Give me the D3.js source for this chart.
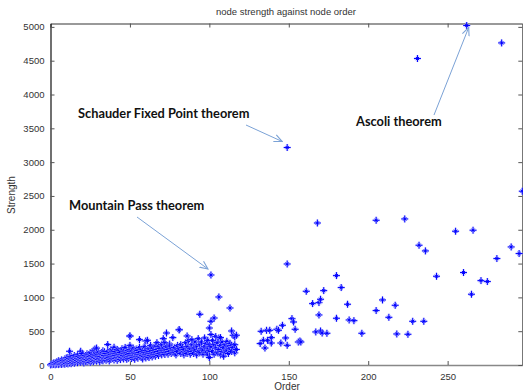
<!DOCTYPE html>
<html>
<head>
<meta charset="utf-8">
<script src="https://cdn.jsdelivr.net/npm/d3@7"></script>
<style>
  body { margin: 0; background: #fff; }
  svg { display: block; }
</style>
</head>
<body>
<div id="chart"></div>
<script>
// node order (x) and node strength (y)
const densePoints = [
  [0,2],[1,5],[1,12],[1,22],[2,8],[2,18],[2,30],[3,4],[3,15],[3,35],[4,10],[4,26],[4,48],[5,6],[5,20],[5,40],[5,62],
  [6,14],[6,33],[6,55],[7,9],[7,28],[7,50],[7,75],[8,18],[8,42],[8,66],[9,12],[9,35],[9,58],[9,88],[10,22],[10,47],[10,70],[10,105],
  [11,16],[11,40],[11,78],[11,112],[12,30],[12,60],[12,95],[12,203],[13,20],[13,52],[13,86],[13,128],[14,38],[14,70],[14,104],
  [15,26],[15,58],[15,92],[15,140],[16,44],[16,80],[16,118],[17,34],[17,66],[17,100],[17,150],[18,50],[18,88],[18,126],
  [19,40],[19,75],[19,203],[19,110],[20,60],[20,96],[20,135],[20,170],
  [21,30],[21,72],[21,115],[22,55],[22,90],[22,140],[23,45],[23,82],[23,120],[23,165],[24,66],[24,104],[24,150],
  [25,38],[25,78],[25,125],[25,180],[26,60],[26,98],[26,140],[27,50],[27,88],[27,130],[27,217],[28,70],[28,112],[28,237],[28,160],
  [29,58],[29,95],[29,145],[29,250],[30,80],[30,120],[30,190],
  [31,48],[31,100],[31,150],[32,75],[32,125],[32,175],[33,62],[33,108],[33,160],[33,210],[34,90],[34,140],[34,195],
  [35,70],[35,118],[35,170],[36,302],[36,95],[36,145],[36,200],[37,60],[37,110],[37,165],[38,85],[38,130],[38,185],[38,225],
  [39,100],[39,150],[39,205],[40,75],[40,120],[40,175],[40,262],
  [41,95],[41,140],[41,200],[42,70],[42,115],[42,165],[42,230],[43,105],[43,150],[43,210],[44,80],[44,130],[44,185],
  [45,110],[45,160],[45,240],[46,90],[46,140],[46,195],[47,120],[47,175],[47,260],[48,85],[48,135],[48,190],
  [49,100],[49,155],[49,215],[50,425],[50,430],[50,120],[50,170],[50,230],[50,290],
  [51,95],[51,145],[51,205],[52,110],[52,165],[52,250],[53,85],[53,135],[53,190],[54,120],[54,175],[54,235],
  [55,100],[55,150],[55,215],[56,375],[56,130],[56,185],[56,260],[57,110],[57,160],[57,225],[58,90],[58,140],[58,200],
  [59,125],[59,180],[59,270],[60,355],[60,105],[60,150],[60,215],
  [61,365],[61,130],[61,190],[62,110],[62,165],[62,240],[63,140],[63,200],[63,290],[64,120],[64,175],[64,250],
  [65,150],[65,215],[66,280],[66,130],[66,190],[67,160],[67,230],[67,330],[68,140],[68,200],[68,270],[69,170],[69,245],
  [70,150],[70,210],[70,300],
  [71,390],[71,180],[71,250],[72,155],[72,220],[72,330],[73,473],[73,190],[73,270],[74,160],[74,230],[75,200],[75,310],[75,280],
  [76,170],[76,240],[77,405],[77,210],[77,190],[78,180],[78,260],[79,150],[79,220],[80,200],[80,290],
  [81,523],[81,520],[81,240],[82,170],[82,300],[83,210],[83,260],[84,150],[84,230],[85,190],[85,330],[86,429],[86,270],[86,170],
  [87,210],[87,360],[88,160],[88,240],[89,375],[89,200],[89,300],[90,170],[90,250],
  [91,220],[91,340],[92,150],[92,280],[93,200],[93,390],[94,750],[94,180],[94,300],[95,240],[95,340],[96,160],[96,220],
  [97,270],[97,400],[98,190],[98,320],[99,365],[99,250],[99,150],[100,547],[100,210],[100,300],[100,110],
  [101,646],[101,450],[101,270],[102,200],[102,360],[103,695],[103,300],[103,160],[104,250],[104,420],[105,180],[105,330],
  [106,1006],[106,230],[106,400],[107,405],[107,150],[107,290],[108,200],[108,340],[109,260],[109,130],[110,300],[110,190],
  [111,220],[111,350],[112,170],[112,280],[113,843],[113,240],[113,320],[114,503],[114,200],[114,290],[115,439],[115,260],
  [116,414],[116,180],[116,300],[117,230],[117,440]
];

const midPoints = [
  [132,317],[132.6,498],[134,365],[135,251],[136,513],[136.6,365],[138,513],[139,325],[139,405],[142.5,528],[143.5,513],
  [145,325],[146,587],[148,400],[149,291],[152,686],[153,636],[154,528],[156,340],[157,355],[157.6,340],
  [161,1090],[165,908],[167,489],[169,740],[169,923],[170,503],[170,972],[171,473],[172,1100],[174,469],[180,691],
  [180,1322],[183,1145],[187,898],[188,666],[191,656],[196,469],[205,805],[209,962],[213,705],[217,883],[218,459],
  [225,454],[228,646],[235,646]
];

const highPoints = [
  [101,1331],[149,1494],[149,3216],[168,2100],[205,2140],[223,2160],[231,4532],[232,1771],[236,1687],[243,1312],
  [255,1978],[260,1367],[262,5020],[265,1046],[266,1993],[271,1248],[275,1234],[281,1574],[284,4763],[290,1746],
  [295,1648],[297,2570]
];

const xTicks = [0, 50, 100, 150, 200, 250];
const yTicks = [0, 500, 1000, 1500, 2000, 2500, 3000, 3500, 4000, 4500, 5000];

const annotations = [
  { text: "Schauder Fixed Point theorem", target: [149, 3216] },
  { text: "Mountain Pass theorem", target: [101, 1331] },
  { text: "Ascoli theorem", target: [262, 5020] }
];

const width = 523, height = 392;

const svg = d3.select('#chart')
  .append('svg')
  .attr('width', width)
  .attr('height', height);

const x = d3.scaleLinear().domain([0, 297]).range([50.5, 522.3]);
const y = d3.scaleLinear().domain([0, 5050]).range([365, 23.5]);

const axisColor = '#555';
const textColor = '#333';
const tickFont = '9.5px "Liberation Sans", Arial, sans-serif';
const fmt = d3.format('d');

function styleAxis(g) {
  g.select('.domain').attr('stroke', axisColor).attr('stroke-width', 1.2);
  g.selectAll('.tick line').attr('stroke', axisColor);
  g.selectAll('.tick text').attr('fill', textColor).style('font', tickFont);
}

// bottom axis, ticks inward
svg.append('g')
  .attr('transform', `translate(0, ${y(0)})`)
  .call(d3.axisBottom(x).tickValues(xTicks).tickFormat(fmt).tickSizeInner(-4).tickSizeOuter(0).tickPadding(8))
  .call(styleAxis)
  .call(g => g.select('.domain').attr('stroke', '#888').attr('stroke-width', 1.6));

svg.append('g')
  .attr('transform', `translate(0, ${y.range()[1]})`)
  .call(d3.axisTop(x).tickValues(xTicks).tickSizeInner(-4).tickSizeOuter(0).tickFormat(''))
  .call(styleAxis)
  .call(g => g.select('.domain').attr('stroke', '#777').attr('stroke-width', 1.5));

svg.append('g')
  .attr('transform', `translate(${x.range()[0]}, 0)`)
  .call(d3.axisLeft(y).tickValues(yTicks).tickFormat(fmt).tickSizeInner(-4).tickSizeOuter(0).tickPadding(6))
  .call(styleAxis)
  .call(g => g.select('.domain').attr('stroke', '#111'));

svg.append('g')
  .attr('transform', `translate(${x.range()[1]}, 0)`)
  .call(d3.axisRight(y).tickValues(yTicks).tickSizeInner(-4).tickSizeOuter(0).tickFormat(''))
  .call(styleAxis);

// '*' markers: a soft halo under a sharp plus with a small cross
const plus = 'M-3.5,0H3.5M0,-3.5V3.5';
const cross = 'M-1.6,-1.6L1.6,1.6M-1.6,1.6L1.6,-1.6';
const allPoints = densePoints.concat(midPoints, highPoints);

const marks = svg.append('g')
  .selectAll('g')
  .data(allPoints)
  .enter()
  .append('g')
  .attr('transform', d => `translate(${x(d[0])}, ${y(d[1])})`);

marks.append('path')
  .attr('d', plus + cross)
  .attr('fill', 'none')
  .attr('stroke', '#b4b8ff')
  .attr('stroke-width', 2.6)
  .attr('stroke-opacity', 0.6);

marks.append('path')
  .attr('d', plus + cross)
  .attr('fill', 'none')
  .attr('stroke', '#0000ff')
  .attr('stroke-width', 1);

// titles
svg.append('text')
  .attr('x', 286).attr('y', 15)
  .attr('text-anchor', 'middle')
  .attr('fill', textColor)
  .style('font', tickFont)
  .text('node strength against node order');

svg.append('text')
  .attr('x', 287).attr('y', 390)
  .attr('text-anchor', 'middle')
  .attr('fill', textColor)
  .style('font', '10px "Liberation Sans", Arial, sans-serif')
  .text('Order');

svg.append('text')
  .attr('transform', 'translate(15, 195) rotate(-90)')
  .attr('text-anchor', 'middle')
  .attr('fill', textColor)
  .style('font', '10px "Liberation Sans", Arial, sans-serif')
  .text('Strength');

// annotation arrows
const defs = svg.append('defs');
defs.append('marker')
  .attr('id', 'head')
  .attr('viewBox', '0 0 10 10')
  .attr('refX', 9).attr('refY', 5)
  .attr('markerWidth', 9).attr('markerHeight', 9)
  .attr('markerUnits', 'userSpaceOnUse')
  .attr('orient', 'auto')
  .append('path')
  .attr('d', 'M0,1L9,5L0,9')
  .attr('fill', 'none')
  .attr('stroke', '#7ba2d6')
  .attr('stroke-width', 1.2);

const labelPos = [
  { x: 78, y: 118, from: [246, 125], to: [-5, -6] },
  { x: 69, y: 210, from: [137, 217], to: [-3, -6] },
  { x: 356, y: 126, from: [434, 115], to: [2, 2] }
];

annotations.forEach((a, i) => {
  const p = labelPos[i];
  svg.append('line')
    .attr('x1', p.from[0]).attr('y1', p.from[1])
    .attr('x2', x(a.target[0]) + p.to[0]).attr('y2', y(a.target[1]) + p.to[1])
    .attr('stroke', '#7ba2d6')
    .attr('stroke-width', 1)
    .attr('marker-end', 'url(#head)');

  svg.append('text')
    .attr('x', p.x).attr('y', p.y)
    .attr('fill', '#111')
    .style('font', 'bold 12.8px Lato, "Open Sans", sans-serif')
    .text(a.text);
});
</script>
</body>
</html>
